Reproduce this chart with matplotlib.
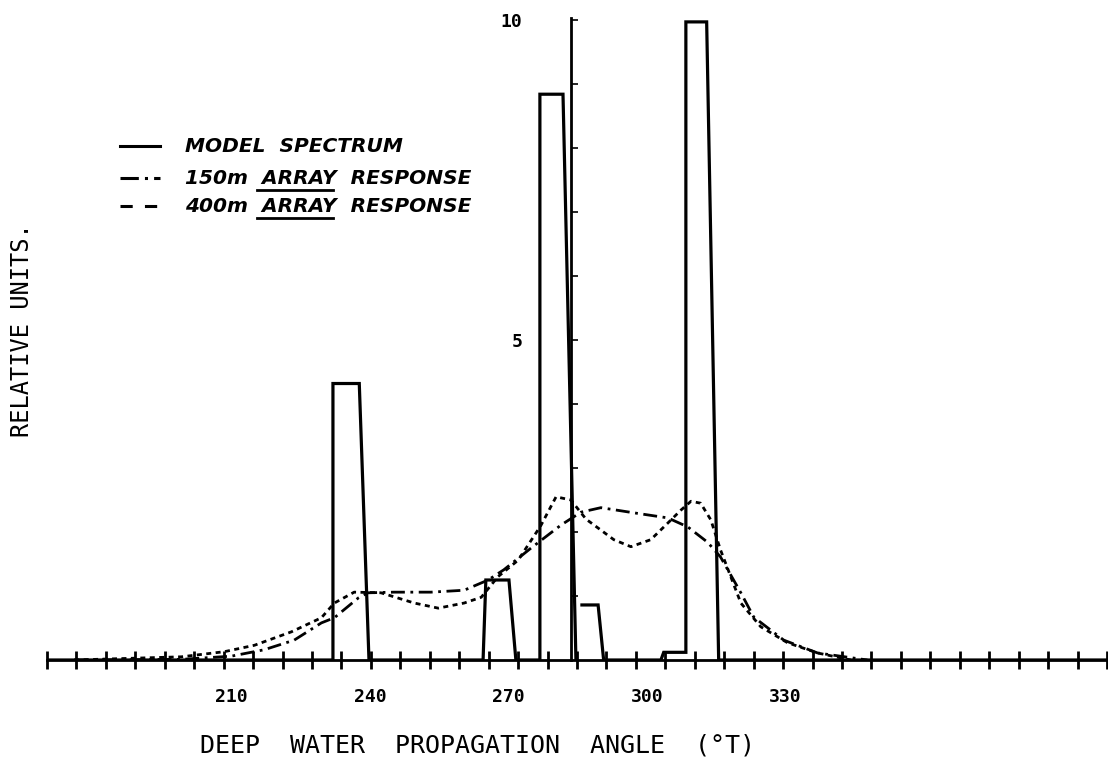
import numpy as np
import matplotlib
matplotlib.use("Agg")
from matplotlib import pyplot as plt

# x in degrees (True), y in relative units
model_x = [170.4, 232.0, 232.0, 237.7, 239.8, 264.5, 265.1, 270.1, 271.6, 276.8, 276.8,
           281.8, 284.6, np.nan, 285.9, 289.4, 290.6, 303.0, 303.6, 308.4, 308.4,
           312.9, 315.5, 399.4]
model_y = [0, 0, 4.32, 4.32, 0, 0, 1.25, 1.25, 0, 0, 8.84,
           8.84, 0, np.nan, 0.86, 0.86, 0, 0, 0.12, 0.12, 9.97,
           9.97, 0, 0]

resp150_x = [176.0, 199.2, 210.0, 217.1, 223.6, 229.5, 232.3, 237.5, 239.6, 245.2, 253.2,
             260.4, 265.6, 269.0, 274.9, 281.4, 285.7, 290.0, 297.1, 304.5, 308.8,
             313.1, 315.9, 320.3, 323.1, 329.6, 336.9, 347.7]
resp150_y = [0.0, 0.01, 0.06, 0.16, 0.31, 0.58, 0.66, 0.97, 1.05, 1.06, 1.06,
             1.09, 1.25, 1.41, 1.75, 2.11, 2.31, 2.38, 2.30, 2.22, 2.08,
             1.84, 1.61, 1.05, 0.67, 0.31, 0.11, 0.0]

resp400_x = [176.0, 199.2, 208.5, 215.0, 223.0, 229.5, 232.3, 236.6, 242.4, 249.6, 254.8,
             260.4, 264.1, 267.7, 272.1, 277.0, 280.3, 283.5, 286.8, 290.0, 292.8,
             296.5, 300.8, 304.5, 307.3, 309.5, 311.6, 313.8, 315.9, 320.3, 324.6,
             330.4, 336.9, 344.1]
resp400_y = [0.0, 0.05, 0.13, 0.23, 0.44, 0.66, 0.89, 1.06, 1.05, 0.89, 0.81,
             0.89, 0.98, 1.30, 1.56, 2.10, 2.55, 2.50, 2.20, 2.03, 1.88,
             1.77, 1.88, 2.14, 2.34, 2.48, 2.45, 2.19, 1.72, 0.89, 0.52,
             0.27, 0.11, 0.0]

xtick_vals = [210, 240, 270, 300, 330]
xtick_minor = np.arange(170.1, 400, 6.374)
ytick_vals = [5, 10]
yaxis_at = 283.5

W, H = 1108, 767
fig = plt.figure(figsize=(W / 100, H / 100), dpi=100)
ax = fig.add_axes([47 / W, 107 / H, 1060 / W, 655 / H])
ax.set_xlim(170.4, 399.4)
ax.set_ylim(0, 10.234)

ax.plot(model_x, model_y, color="black", lw=2.3, solid_joinstyle="miter", zorder=4)
ax.plot(resp150_x, resp150_y, color="black", lw=2.0, dashes=(5, 2, 1, 2), zorder=3)
ax.plot(resp400_x, resp400_y, color="black", lw=2.0, dashes=(1.8, 1.6), zorder=3)

# axes: x along the bottom, y spine placed at a data position
for s in ["top", "right"]:
    ax.spines[s].set_visible(False)
ax.spines["bottom"].set_linewidth(2)
ax.spines["left"].set_position(("data", yaxis_at))
ax.spines["left"].set_bounds(0, 10.03)
ax.spines["left"].set_linewidth(2)

ax.set_xticks(xtick_vals)
ax.set_xticklabels([str(v) for v in xtick_vals], family="DejaVu Sans Mono", fontsize=13,
                   fontweight="bold")
ax.set_xticks(xtick_minor, minor=True)
ax.tick_params(axis="x", which="major", length=0, pad=20)
ax.tick_params(axis="x", which="minor", direction="inout", length=13, width=2)

ax.set_yticks(ytick_vals)
ax.set_yticklabels([str(v) for v in ytick_vals], family="DejaVu Sans Mono", fontsize=13,
                   fontweight="bold")
ax.set_yticks(np.arange(1, 10), minor=True)
ax.tick_params(axis="y", which="major", direction="in", length=5, width=1.2, pad=35)
ax.tick_params(axis="y", which="minor", direction="in", length=5, width=1.2)

fig.text(478 / W, 1 - 745 / H, "DEEP  WATER  PROPAGATION  ANGLE  (\u00b0T)",
         family="DejaVu Sans Mono", fontsize=18, ha="center", va="center")
fig.text(22 / W, 1 - 330 / H, "RELATIVE UNITS.", family="DejaVu Sans Mono",
         fontsize=17, rotation=90, ha="center", va="center")

# legend drawn by hand so that ARRAY can be underlined
leg_font = dict(family="DejaVu Sans", fontstyle="italic", fontweight="bold", fontsize=14.5)
rows = [("MODEL  SPECTRUM", None, {}),
        ("150m  ARRAY  RESPONSE", "150m  ", dict(dashes=(6, 2, 1, 2))),
        ("400m  ARRAY  RESPONSE", "400m  ", dict(dashes=(4, 4)))]
row_y = [146, 178, 206]
fig.canvas.draw()
renderer = fig.canvas.get_renderer()
for (label, prefix, style), py in zip(rows, row_y):
    fy = 1 - py / H
    fig.add_artist(plt.Line2D([120 / W, 160 / W], [fy, fy], color="black", lw=2.2, **style))
    t = fig.text(185 / W, fy, label, ha="left", va="center", **leg_font)
    if prefix:
        t0 = fig.text(185 / W, fy, prefix, ha="left", va="center", alpha=0, **leg_font)
        t1 = fig.text(185 / W, fy, prefix + "ARRAY", ha="left", va="center", alpha=0, **leg_font)
        x0 = t0.get_window_extent(renderer).x1 - 5
        x1 = t1.get_window_extent(renderer).x1 - 4
        uy = t.get_window_extent(renderer).y0 - 2
        fig.add_artist(plt.Line2D([x0 / W, x1 / W], [uy / H, uy / H], color="black", lw=2))

fig.savefig("out.png", dpi=100, facecolor="white")
